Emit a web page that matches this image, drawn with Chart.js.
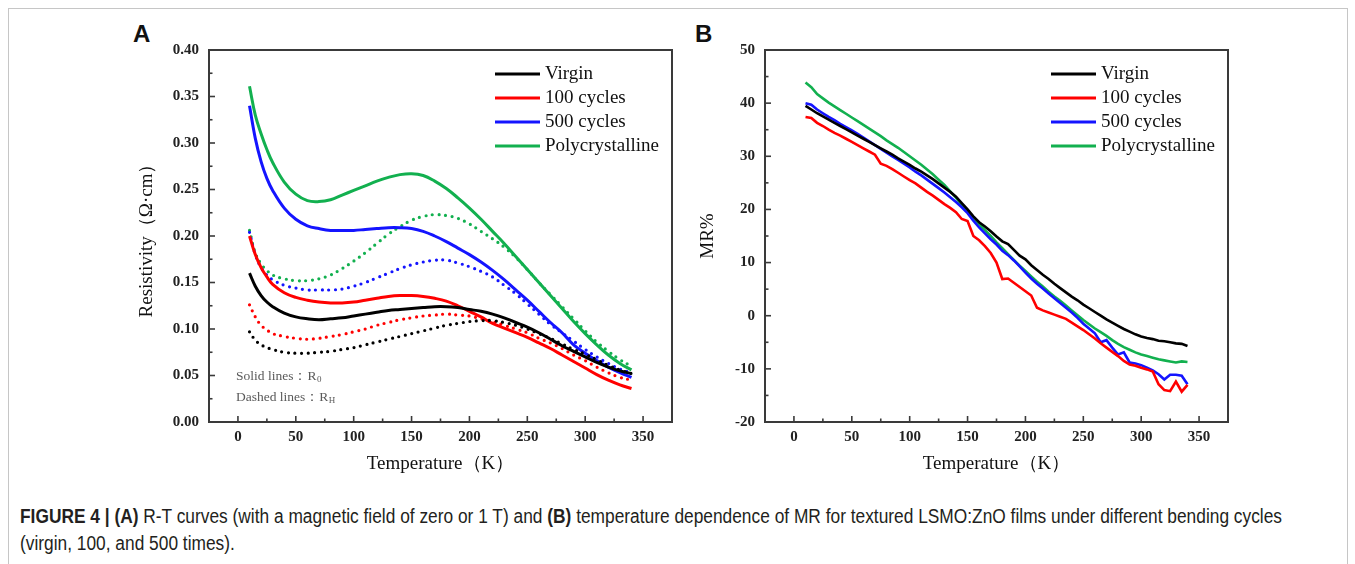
<!DOCTYPE html>
<html lang="en">
<head>
<meta charset="UTF-8">
<title>Figure 4 - R-T curves and MR</title>
<script src="https://cdn.jsdelivr.net/npm/chart.js@4.4.1/dist/chart.umd.min.js"></script>
<style>
  body { margin: 0; background: #fff; width: 1355px; height: 564px; overflow: hidden; position: relative; }
  #frame { position: absolute; left: 8px; top: 8px; width: 1338px; height: 600px; border: 1px solid #c6c6c6; }
  .panel { position: absolute; top: 20px; width: 580px; height: 470px; }
  #wrapA { left: 110px; }
  #wrapB { left: 670px; }
  .tag { position: absolute; top: 22px; font: bold 24px "Liberation Sans", Arial, sans-serif; line-height: 24px; color: #111; }
  #caption { position: absolute; left: 20px; top: 503px; font-family: "Liberation Sans Narrow", "Liberation Sans", Arial, sans-serif;
             font-size: 19.5px; line-height: 27px; color: #231f20; white-space: nowrap; transform-origin: 0 0; }
  #caption b { font-weight: bold; }
</style>
</head>
<body>
<div id="frame"></div>
<div class="tag" style="left:133px">A</div>
<div class="tag" style="left:695px">B</div>
<div class="panel" id="wrapA"><canvas id="chartA"></canvas></div>
<div class="panel" id="wrapB"><canvas id="chartB"></canvas></div>
<div id="caption">
  <span id="capLine1"><b>FIGURE 4 | (A)</b> R-T curves (with a magnetic field of zero or 1 T) and <b>(B)</b> temperature dependence of MR for textured LSMO:ZnO films under different bending cycles</span><br>
  <span>(virgin, 100, and 500 times).</span>
</div>
<script>
    // axis ticks
    const xTicks = [0, 50, 100, 150, 200, 250, 300, 350];
    const yTicksA = [0, 0.05, 0.10, 0.15, 0.20, 0.25, 0.30, 0.35, 0.40];
    const yTicksB = [-20, -10, 0, 10, 20, 30, 40, 50];

    // panel A: resistivity (ohm cm) vs temperature (K)
    const tempA = [10, 15, 20, 25, 30, 40, 50, 60, 70, 80, 90, 100, 110, 120, 130, 140, 150, 160, 170, 180,
        190, 200, 210, 220, 230, 240, 250, 260, 270, 280, 290, 300, 310, 320, 330, 340];
    const virginR0 = [0.160, 0.146, 0.136, 0.129, 0.124, 0.117, 0.113, 0.111, 0.110, 0.111, 0.112, 0.114, 0.116, 0.118, 0.120,
        0.121, 0.122, 0.123, 0.124, 0.124, 0.123, 0.121, 0.119, 0.116, 0.112, 0.107, 0.102, 0.096, 0.089, 0.082, 0.076, 0.070,
        0.064, 0.059, 0.055, 0.052];
    const virginRH = [0.097, 0.088, 0.083, 0.080, 0.078, 0.075, 0.074, 0.074, 0.075, 0.076, 0.078, 0.080, 0.083, 0.086, 0.089,
        0.092, 0.095, 0.098, 0.101, 0.104, 0.106, 0.108, 0.109, 0.109, 0.107, 0.104, 0.100, 0.095, 0.090, 0.084, 0.078, 0.073,
        0.067, 0.061, 0.056, 0.052];
    const c100R0 = [0.200, 0.180, 0.166, 0.156, 0.148, 0.139, 0.134, 0.131, 0.129, 0.128, 0.128, 0.129, 0.131, 0.133, 0.135,
        0.136, 0.136, 0.135, 0.133, 0.130, 0.125, 0.119, 0.113, 0.106, 0.101, 0.096, 0.091, 0.085, 0.079, 0.072, 0.065, 0.058,
        0.051, 0.045, 0.040, 0.036];
    const c100RH = [0.126, 0.113, 0.104, 0.099, 0.095, 0.092, 0.090, 0.089, 0.090, 0.092, 0.094, 0.097, 0.100, 0.104, 0.107,
        0.110, 0.112, 0.114, 0.115, 0.116, 0.115, 0.114, 0.111, 0.108, 0.104, 0.100, 0.096, 0.090, 0.085, 0.079, 0.072, 0.066,
        0.059, 0.053, 0.048, 0.045];
    const c500R0 = [0.340, 0.305, 0.280, 0.262, 0.249, 0.230, 0.218, 0.211, 0.208, 0.206, 0.206, 0.206, 0.207, 0.208, 0.209,
        0.209, 0.208, 0.205, 0.200, 0.194, 0.187, 0.180, 0.172, 0.163, 0.153, 0.142, 0.131, 0.119, 0.107, 0.096, 0.083, 0.074,
        0.066, 0.059, 0.053, 0.048];
    const c500RH = [0.204, 0.180, 0.166, 0.158, 0.153, 0.147, 0.144, 0.142, 0.142, 0.142, 0.143, 0.146, 0.150, 0.155, 0.160,
        0.165, 0.169, 0.172, 0.174, 0.174, 0.171, 0.167, 0.162, 0.156, 0.147, 0.138, 0.127, 0.116, 0.105, 0.096, 0.087, 0.078,
        0.070, 0.063, 0.057, 0.053];
    const polyR0 = [0.361, 0.330, 0.310, 0.293, 0.279, 0.258, 0.245, 0.238, 0.237, 0.239, 0.244, 0.249, 0.254, 0.259, 0.263,
        0.266, 0.267, 0.265, 0.259, 0.251, 0.241, 0.230, 0.218, 0.205, 0.192, 0.178, 0.164, 0.150, 0.136, 0.122, 0.108, 0.095,
        0.083, 0.072, 0.063, 0.056];
    const polyRH = [0.206, 0.182, 0.170, 0.163, 0.158, 0.154, 0.152, 0.152, 0.154, 0.158, 0.165, 0.173, 0.182, 0.192, 0.202,
        0.210, 0.217, 0.221, 0.223, 0.222, 0.219, 0.213, 0.205, 0.197, 0.188, 0.177, 0.164, 0.150, 0.137, 0.124, 0.111, 0.098,
        0.086, 0.076, 0.067, 0.060];

    // panel B: MR% vs temperature (K), 10..340 every 5 K
    const tempB = [10, 15, 20, 25, 30, 35, 40, 45, 50, 55, 60, 65, 70, 75, 80, 85, 90, 95, 100, 105, 110, 115, 120, 125,
        130, 135, 140, 145, 150, 155, 160, 165, 170, 175, 180, 185, 190, 195, 200, 205, 210, 215, 220, 225, 230, 235, 240,
        245, 250, 255, 260, 265, 270, 275, 280, 285, 290, 295, 300, 305, 310, 315, 320, 325, 330, 335, 340];
    const virginMR = [39.5, 38.8, 38.1, 37.5, 36.9, 36.3, 35.7, 35.1, 34.5, 33.9, 33.3, 32.7, 32.1, 31.5, 30.9, 30.3, 29.6,
        29.0, 28.4, 27.7, 27.1, 26.4, 25.7, 24.9, 24.1, 23.3, 22.4, 21.2, 20.0, 18.7, 17.6, 16.8, 15.9, 14.9, 14.0, 13.5,
        12.4, 11.3, 10.6, 9.5, 8.6, 7.7, 6.9, 6.0, 5.2, 4.4, 3.6, 2.9, 2.1, 1.4, 0.7, 0.0, -0.7, -1.3, -1.9, -2.5, -3.0,
        -3.5, -3.9, -4.2, -4.4, -4.7, -4.8, -5.0, -5.2, -5.3, -5.7];
    const c100MR = [37.4, 37.2, 36.3, 35.7, 35.0, 34.4, 33.9, 33.3, 32.7, 32.1, 31.5, 30.9, 30.3, 28.6, 28.2, 27.6, 26.9,
        26.2, 25.5, 24.9, 24.1, 23.3, 22.6, 21.8, 21.0, 20.3, 19.5, 18.2, 17.8, 15.0, 14.2, 13.1, 11.8, 10.0, 6.9, 7.0,
        6.2, 5.4, 4.6, 3.8, 1.5, 1.0, 0.6, 0.2, -0.2, -0.6, -1.3, -2.0, -2.7, -3.5, -4.3, -5.2, -6.0, -6.8, -7.6, -8.5,
        -9.2, -9.4, -9.8, -10.1, -10.5, -12.9, -14.0, -14.2, -12.4, -14.3, -13.0];
    const c500MR = [40.0, 39.7, 38.8, 38.1, 37.4, 36.8, 36.1, 35.5, 34.9, 34.2, 33.5, 32.8, 32.1, 31.4, 30.7, 30.0, 29.3,
        28.6, 27.9, 27.1, 26.4, 25.6, 24.8, 24.0, 23.2, 22.3, 21.4, 20.4, 19.3, 17.9, 16.6, 15.5, 14.4, 13.4, 12.2, 11.4,
        10.4, 9.3, 8.1, 7.0, 6.0, 5.1, 4.2, 3.3, 2.4, 1.5, 0.6, -0.4, -1.5, -2.4, -3.3, -5.0, -4.6, -6.0, -7.3, -6.9,
        -8.8, -9.0, -9.3, -9.8, -10.3, -11.0, -12.0, -11.1, -11.1, -11.3, -12.9];
    const polyMR = [43.9, 43.0, 41.7, 40.9, 40.1, 39.4, 38.7, 38.0, 37.3, 36.6, 35.9, 35.2, 34.5, 33.8, 33.0, 32.3, 31.6,
        30.8, 30.0, 29.2, 28.4, 27.5, 26.6, 25.6, 24.6, 23.4, 22.2, 20.8, 19.6, 18.4, 17.2, 16.1, 15.0, 13.8, 12.7, 11.6,
        10.5, 9.4, 8.4, 7.4, 6.4, 5.5, 4.5, 3.6, 2.8, 1.9, 1.0, 0.1, -0.8, -1.6, -2.4, -3.1, -3.8, -4.6, -5.3, -5.9,
        -6.4, -6.9, -7.3, -7.6, -7.9, -8.2, -8.4, -8.6, -8.8, -8.6, -8.7];

    const labels = ["Virgin", "100 cycles", "500 cycles", "Polycrystalline"];
    const colors = ["#000000", "#ff0000", "#1414ff", "#12b04f"];

    const serif = '"Liberation Serif", "Times New Roman", serif';

    function pts(xs, ys) {
        return xs.map(function (x, i) {
            return {x: x, y: ys[i]};
        });
    }

    function solid(k, ys, xs, w) {
        return {label: labels[k], data: pts(xs, ys), borderColor: colors[k], borderWidth: w,
            pointRadius: 0, tension: xs === tempA ? 0.4 : 0, fill: false};
    }

    function dotted(k, ys) {
        return {label: labels[k] + " RH", data: pts(tempA, ys), borderColor: colors[k], borderWidth: 3.2,
            borderDash: [0, 6.6], borderCapStyle: "round", pointRadius: 0, tension: 0.4, fill: false};
    }

    // frame, inward tick marks, legend and notes
    const panelDecor = {
        id: "panelDecor",
        afterDraw: function (chart, args, opts) {
            const ctx = chart.ctx, a = chart.chartArea;
            const sx = chart.scales.x, sy = chart.scales.y;
            ctx.save();
            ctx.strokeStyle = "#3a3a3a";
            ctx.lineWidth = 2;
            ctx.strokeRect(a.left, a.top, a.right - a.left, a.bottom - a.top);

            ctx.lineWidth = 1.6;
            function marks(scale, horiz) {
                const vals = scale.ticks.map(function (t) { return t.value; });
                const all = [];
                vals.forEach(function (v, i) {
                    all.push([v, 6]);
                    if (i + 1 < vals.length) all.push([(v + vals[i + 1]) / 2, 3.5]);
                });
                all.forEach(function (m) {
                    const p = scale.getPixelForValue(m[0]);
                    ctx.beginPath();
                    if (horiz) { ctx.moveTo(p, a.bottom); ctx.lineTo(p, a.bottom - m[1]); }
                    else { ctx.moveTo(a.left, p); ctx.lineTo(a.left + m[1], p); }
                    ctx.stroke();
                });
            }
            marks(sx, true);
            marks(sy, false);

            const lg = opts.legend;
            ctx.font = lg.font;
            ctx.textBaseline = "middle";
            ctx.textAlign = "left";
            lg.items.forEach(function (idx, row) {
                const ds = chart.data.datasets[idx];
                const y = a.top + lg.top + row * lg.gap;
                ctx.strokeStyle = ds.borderColor;
                ctx.lineWidth = lg.width;
                ctx.beginPath();
                ctx.moveTo(a.left + lg.x0, y);
                ctx.lineTo(a.left + lg.x1, y);
                ctx.stroke();
                ctx.fillStyle = "#111";
                ctx.fillText(ds.label, a.left + lg.tx, y);
            });

            (opts.notes || []).forEach(function (n) {
                const x = a.left + n.dx, y = a.bottom + n.dy;
                ctx.fillStyle = "#5a5a5a";
                ctx.font = "13.5px " + serif;
                ctx.fillText(n.text, x, y);
                const w = ctx.measureText(n.text).width;
                ctx.font = "9px " + serif;
                ctx.fillText(n.sub, x + w + 0.5, y + 4);
            });
            ctx.restore();
        }
    };

    function makeOptions(cfg) {
        return {
            responsive: true,
            maintainAspectRatio: false,
            animation: false,
            devicePixelRatio: 1,
            layout: {padding: {left: 0, top: 30, right: cfg.padRight, bottom: 0}},
            plugins: {
                legend: {display: false},
                tooltip: {enabled: false},
                panelDecor: {
                    legend: {items: cfg.legendItems, x0: 286, x1: 331, tx: 336, top: 24, gap: 24, width: 3.2,
                        font: "19px " + serif},
                    notes: cfg.notes
                }
            },
            scales: {
                x: {
                    type: "linear", min: -25, max: 375,
                    grid: {display: false, drawTicks: false},
                    border: {display: false},
                    afterBuildTicks: function (s) { s.ticks = xTicks.map(function (v) { return {value: v}; }); },
                    afterFit: function (s) { s.height = 68; },
                    ticks: {padding: 6, color: "#222", font: {family: serif, size: 15, weight: "bold"}},
                    title: {display: true, text: "Temperature（K）", color: "#111",
                        font: {family: serif, size: 19}, padding: {top: 0, bottom: 15}}
                },
                y: {
                    type: "linear", min: cfg.yTicks[0], max: cfg.yTicks[cfg.yTicks.length - 1],
                    grid: {display: false, drawTicks: false},
                    border: {display: false},
                    afterBuildTicks: function (s) { s.ticks = cfg.yTicks.map(function (v) { return {value: v}; }); },
                    afterFit: function (s) { s.width = cfg.yWidth; },
                    ticks: {padding: 10, color: "#222", font: {family: serif, size: 15, weight: "bold"}, callback: cfg.fmt},
                    title: {display: true, text: cfg.yTitle, color: "#111",
                        font: {family: serif, size: 19}, padding: {top: cfg.titlePad, bottom: 0}}
                }
            }
        };
    }

    new Chart(document.getElementById("chartA"), {
        type: "line",
        data: {
            datasets: [
                solid(0, virginR0, tempA, 3), dotted(0, virginRH),
                solid(1, c100R0, tempA, 3), dotted(1, c100RH),
                solid(2, c500R0, tempA, 3), dotted(2, c500RH),
                solid(3, polyR0, tempA, 3), dotted(3, polyRH)
            ]
        },
        options: makeOptions({
            padRight: 18, yWidth: 99, titlePad: 26, yTicks: yTicksA, yTitle: "Resistivity（Ω·cm）",
            fmt: function (v) { return Number(v).toFixed(2); },
            legendItems: [0, 2, 4, 6],
            notes: [{text: "Solid lines：R", sub: "0", dx: 27, dy: -46},
                {text: "Dashed lines：R", sub: "H", dx: 27, dy: -25}]
        }),
        plugins: [panelDecor]
    });

    new Chart(document.getElementById("chartB"), {
        type: "line",
        data: {
            datasets: [
                solid(0, virginMR, tempB, 2.6), solid(1, c100MR, tempB, 2.6),
                solid(2, c500MR, tempB, 2.6), solid(3, polyMR, tempB, 2.6)
            ]
        },
        options: makeOptions({
            padRight: 22, yWidth: 95, titlePad: 27, yTicks: yTicksB, yTitle: "MR%",
            fmt: function (v) { return String(v); },
            legendItems: [0, 1, 2, 3],
            notes: []
        }),
        plugins: [panelDecor]
    });

    // stretch caption so the first line spans like the original
    document.fonts.ready.then(function () {
        const w = document.getElementById("capLine1").getBoundingClientRect().width;
        document.getElementById("caption").style.transform = "scaleX(" + (1262 / w) + ")";
    });
</script>
</body>
</html>
